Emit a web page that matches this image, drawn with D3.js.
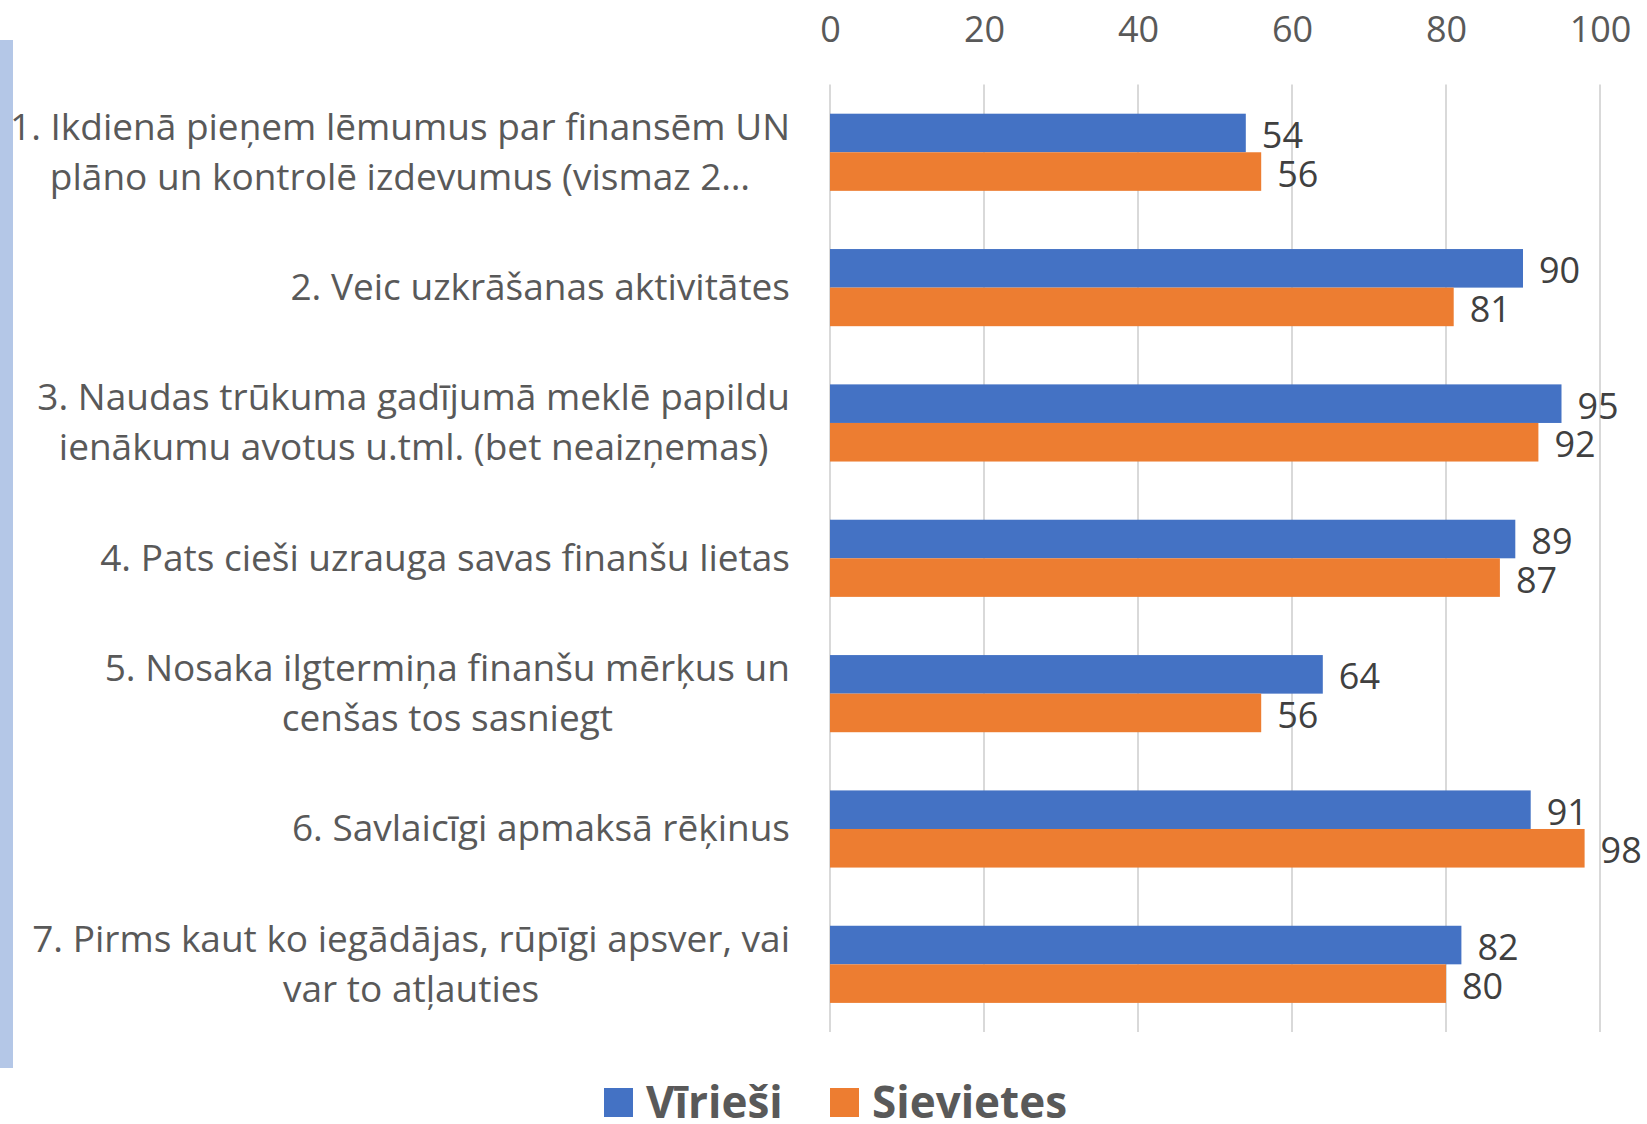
<!DOCTYPE html>
<html><head><meta charset="utf-8">
<script src="https://cdn.jsdelivr.net/npm/d3@7"></script>
<style>html,body{margin:0;padding:0;background:#fff;}svg{display:block;}</style>
</head><body>
<svg id="chart" width="1647" height="1124"></svg>
<script>
const categories = [
  ["1. Ikdienā pieņem lēmumus par finansēm UN", "plāno un kontrolē izdevumus (vismaz 2…"],
  ["2. Veic uzkrāšanas aktivitātes"],
  ["3. Naudas trūkuma gadījumā meklē papildu", "ienākumu avotus u.tml. (bet neaizņemas)"],
  ["4. Pats cieši uzrauga savas finanšu lietas"],
  ["5. Nosaka ilgtermiņa finanšu mērķus un", "cenšas tos sasniegt"],
  ["6. Savlaicīgi apmaksā rēķinus"],
  ["7. Pirms kaut ko iegādājas, rūpīgi apsver, vai", "var to atļauties"]
];
const seriesNames = ["Vīrieši", "Sievietes"];
const men = [54, 90, 95, 89, 64, 91, 82];
const women = [56, 81, 92, 87, 56, 98, 80];
const tickValues = [0, 20, 40, 60, 80, 100];

(function () {
const colors = ["#4472C4", "#ED7D31"];
const font = "'Open Sans', sans-serif";
const svg = d3.select("#chart");

const pLeft = 830, pRight = 1600, pTop = 84.6, pBottom = 1032;
const x = d3.scaleLinear().domain([0, 100]).range([pLeft, pRight]);
const y = d3.scaleBand().domain(d3.range(categories.length)).range([pTop, pBottom]).paddingInner(0.43).paddingOuter(0.215);
const sub = d3.scaleBand().domain([0, 1]).range([0, y.bandwidth()]);

svg.append("rect").attr("x", 0).attr("y", 40).attr("width", 13).attr("height", 1028).attr("fill", "#B4C7E7");

svg.append("g").selectAll("line").data(tickValues).join("line")
  .attr("x1", d => x(d)).attr("x2", d => x(d))
  .attr("y1", pTop).attr("y2", pBottom)
  .attr("stroke", "#D9D9D9").attr("stroke-width", 2);

const axis = d3.axisTop(x).tickValues(tickValues).tickSize(0).tickPadding(0);
const ag = svg.append("g").attr("transform", "translate(0,42)").call(axis);
ag.select(".domain").remove();
ag.selectAll("text").attr("font-family", font).attr("font-size", 36).attr("fill", "#595959").attr("dy", "0");

const data = categories.map((c, i) => ({i, vals: [men[i], women[i]]}));
const groups = svg.append("g").selectAll("g").data(data).join("g")
  .attr("transform", d => `translate(0,${y(d.i)})`);
groups.selectAll("rect").data(d => d.vals.map((v, k) => ({v, k}))).join("rect")
  .attr("x", x(0)).attr("y", d => sub(d.k))
  .attr("width", d => x(d.v) - x(0)).attr("height", sub.bandwidth())
  .attr("fill", d => colors[d.k]);
groups.selectAll("text.val").data(d => d.vals.map((v, k) => ({v, k}))).join("text")
  .attr("class", "val")
  .attr("x", d => x(d.v) + 16).attr("y", d => sub(d.k) + sub.bandwidth() / 2 + 2)
  .attr("dy", "0.36em")
  .attr("font-family", font).attr("font-size", 36).attr("fill", "#404040")
  .text(d => d.v);

const labelRight = 790;
categories.forEach((lines, i) => {
  const g = svg.append("g");
  const cy = y(i) + y.bandwidth() / 2;
  const lh = 50;
  const texts = lines.map((ln, j) => g.append("text")
    .attr("font-family", font).attr("font-size", 37).attr("fill", "#595959")
    .attr("text-anchor", "middle")
    .attr("y", cy + (j - (lines.length - 1) / 2) * lh - 1)
    .attr("dy", "0.36em").text(ln));
  const maxW = d3.max(texts, t => t.node().getComputedTextLength());
  texts.forEach(t => t.attr("x", labelRight - maxW / 2));
});

const legend = svg.append("g");
const legendItems = [{name: seriesNames[0], x: 604}, {name: seriesNames[1], x: 830}];
legendItems.forEach((d, k) => {
  legend.append("rect").attr("x", d.x).attr("y", 1088).attr("width", 29).attr("height", 29).attr("fill", colors[k]);
  legend.append("text").attr("x", d.x + 42).attr("y", 1102).attr("dy", "0.36em")
    .attr("font-family", font).attr("font-size", 44).attr("font-weight", "bold").attr("fill", "#595959")
    .text(d.name);
});
})();
</script>
</body></html>
